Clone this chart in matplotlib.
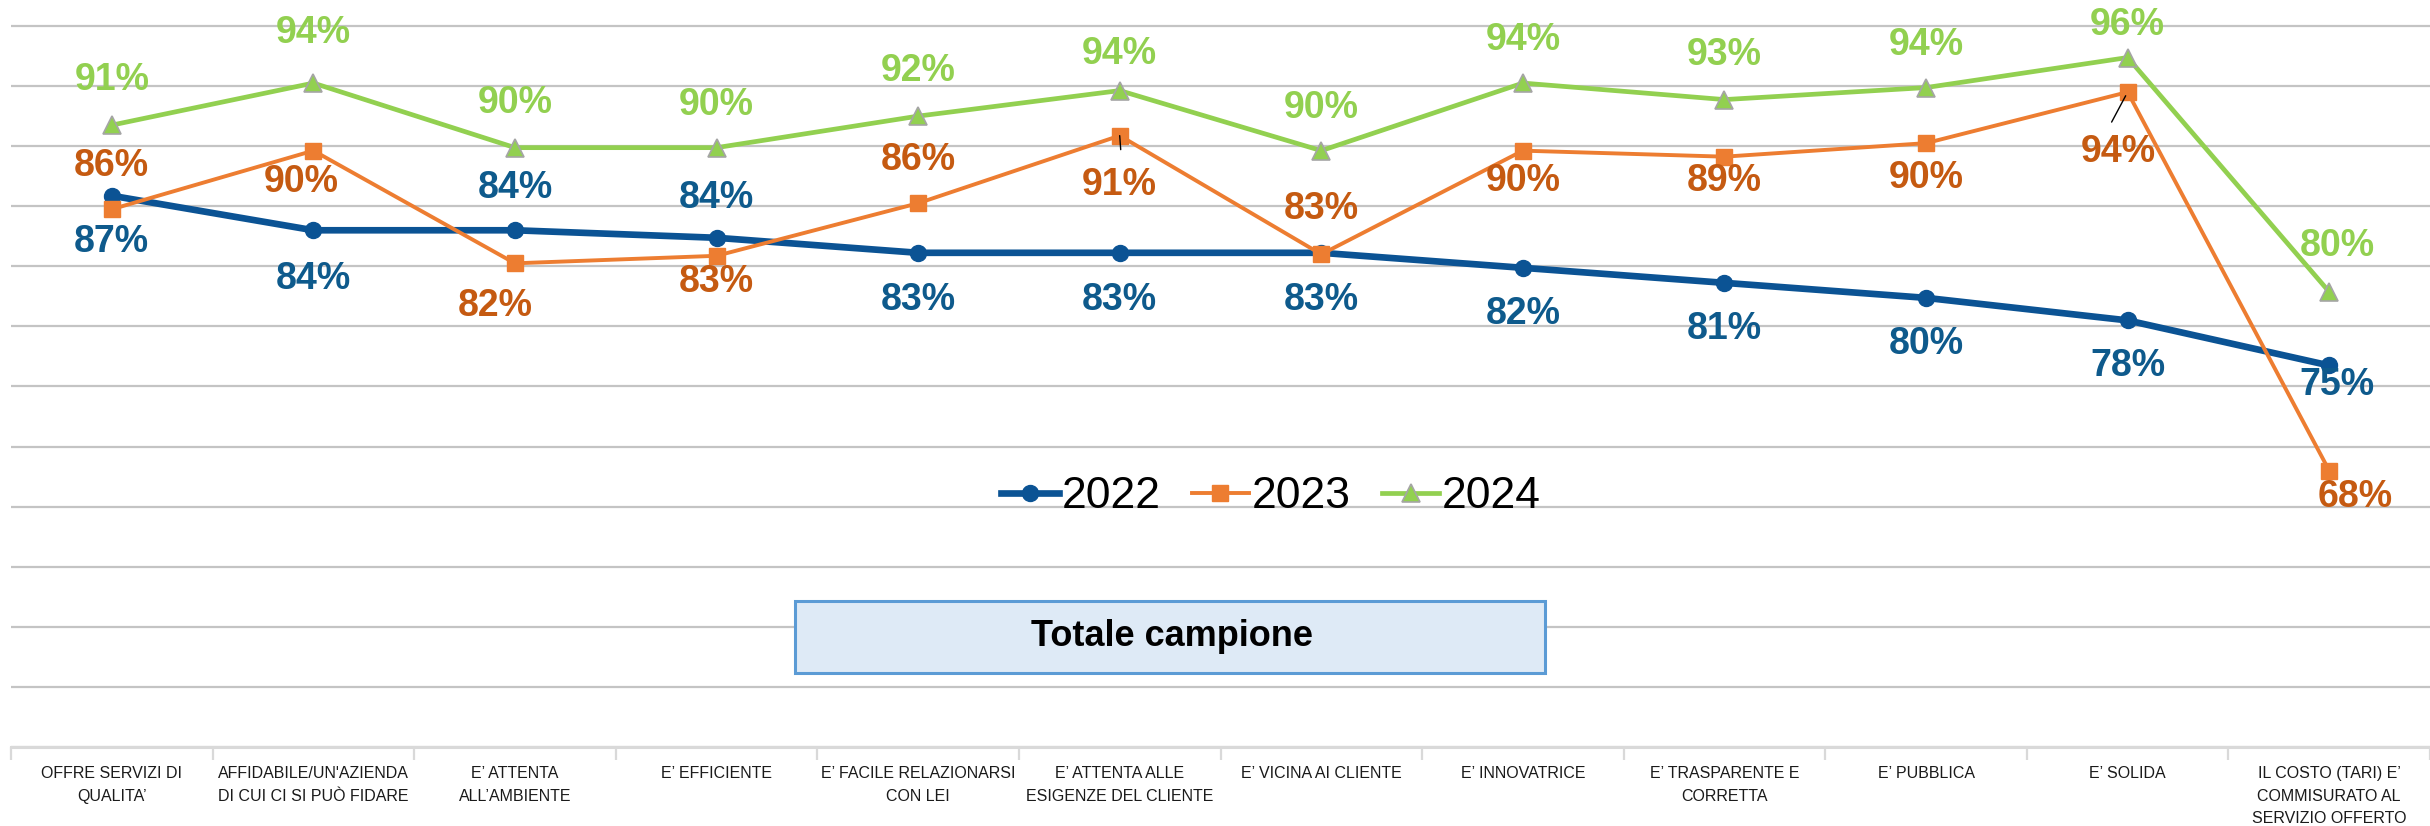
import matplotlib
matplotlib.use("Agg")
import matplotlib.pyplot as plt
from matplotlib.patches import FancyBboxPatch
import numpy as np

plt.rcParams["font.family"] = ["Liberation Sans", "DejaVu Sans"]

CATEGORIES = [
    "OFFRE SERVIZI DI\nQUALITA’",
    "AFFIDABILE/UN'AZIENDA\nDI CUI CI SI PUÒ FIDARE",
    "E’ ATTENTA\nALL’AMBIENTE",
    "E’ EFFICIENTE",
    "E’ FACILE RELAZIONARSI\nCON LEI",
    "E’ ATTENTA ALLE\nESIGENZE DEL CLIENTE",
    "E’ VICINA AI CLIENTE",
    "E’ INNOVATRICE",
    "E’ TRASPARENTE E\nCORRETTA",
    "E’ PUBBLICA",
    "E’ SOLIDA",
    "IL COSTO (TARI) E’\nCOMMISURATO AL\nSERVIZIO OFFERTO",
]
YEARS = ["2022", "2023", "2024"]
V2022 = [86.7, 84.4, 84.4, 83.9, 82.9, 82.9, 82.9, 81.9, 80.9, 79.9, 78.4, 75.4]
V2023 = [85.8, 89.7, 82.2, 82.7, 86.2, 90.7, 82.8, 89.7, 89.3, 90.2, 93.6, 68.4]
V2024 = [91.4, 94.2, 89.9, 89.9, 92.0, 93.7, 89.7, 94.2, 93.1, 93.9, 95.9, 80.3]

# label offsets in pixels (dx, dy; dy>0 = below the point)
OFF2022 = [(0, 46), (0, 49), (0, -42), (0, -40), (0, 47), (0, 47), (0, 47),
           (0, 46), (0, 46), (0, 46), (0, 46), (8, 20)]
OFF2023 = [(0, -43), (-12, 31), (-20, 43), (0, 26), (0, -43), (0, 49), (0, -45),
           (0, 30), (0, 24), (0, 35), (-9, 60), (26, 26)]
OFF2024 = [(0, -45), (0, -50), (0, -45), (0, -43), (0, -45), (0, -37), (0, -43),
           (0, -43), (0, -45), (0, -43), (0, -33), (8, -46)]

DPI = 100
fig = plt.figure(figsize=(24.3, 8.26), dpi=DPI)
ax = fig.add_axes([11 / 2430, 79 / 826, 1 - 11 / 2430, 1 - 79 / 826])

x = np.arange(len(CATEGORIES))
series = [
    (V2022, OFF2022, dict(color="#0B5394", lw=4.8, marker="o", ms=11.5, mec="#0B5394"), "#0E5A8C"),
    (V2023, OFF2023, dict(color="#ED7D31", lw=2.8, marker="s", ms=11, mec="#ED7D31"), "#C55A11"),
    (V2024, OFF2024, dict(color="#92D050", lw=3.4, marker="^", ms=13.5, mec="#A5A5A5", mew=1.2), "#92D050"),
]
handles = []
for vals, offs, style, lcol in series:
    h, = ax.plot(x, vals, zorder=3, **style)
    handles.append(h)
    for xi, v, (dx, dy) in zip(x, vals, offs):
        ax.annotate(f"{v:.0f}%", (xi, v), xytext=(dx * 72 / DPI, -dy * 72 / DPI),
                    textcoords="offset points", ha="center", va="center",
                    fontsize=27, fontweight="bold", color=lcol, zorder=5)

# leader lines for two 2023 labels
ax.annotate("", (x[5], V2023[5]), xytext=(1 * 72 / DPI, -14 * 72 / DPI), textcoords="offset points",
            arrowprops=dict(arrowstyle="-", color="black", lw=1.0, shrinkA=0, shrinkB=0), zorder=6)
ax.annotate("", (x[10], V2023[10]), xytext=(-16 * 72 / DPI, -30 * 72 / DPI), textcoords="offset points",
            arrowprops=dict(arrowstyle="-", color="black", lw=1.0, shrinkA=0, shrinkB=3), zorder=6)

ax.set_xlim(-0.5, len(CATEGORIES) - 0.5)
ax.set_ylim(50, 98 + 26 / 15.03)
ax.set_yticks(np.arange(50, 99, 4))
ax.yaxis.grid(True, color="#C4C4C4", lw=1.6)
ax.set_axisbelow(True)
ax.tick_params(axis="y", left=False, labelleft=False)
for s in ("top", "right", "left"):
    ax.spines[s].set_visible(False)
ax.spines["bottom"].set_color("#D9D9D9")
ax.spines["bottom"].set_linewidth(2.2)

ax.set_xticks(x)
ax.set_xticklabels(CATEGORIES, fontsize=11.5, color="#1a1a1a", linespacing=1.6)
ax.tick_params(axis="x", which="major", length=0, pad=14)
ax.set_xticks(np.arange(-0.5, len(CATEGORIES)), minor=True)
ax.tick_params(axis="x", which="minor", length=9, width=1.6, color="#D9D9D9")

leg = ax.legend(handles, YEARS, loc="center", bbox_to_anchor=(1271 / 2430, 1 - 497 / 826),
                bbox_transform=fig.transFigure, ncol=3, frameon=False, fontsize=32,
                handlelength=1.3, handletextpad=0.05, columnspacing=0.7)

box = FancyBboxPatch((795 / 2430, 1 - 673 / 826), 750 / 2430, 72 / 826, boxstyle="square,pad=0",
                     transform=fig.transFigure, facecolor="#DEEAF6", edgecolor="#5B9BD5", lw=2.2)
fig.patches.append(box)
fig.text(1172 / 2430, 1 - 637 / 826, "Totale campione", ha="center", va="center",
         fontsize=26, fontweight="bold", color="black")

fig.savefig("out.png", dpi=DPI)
